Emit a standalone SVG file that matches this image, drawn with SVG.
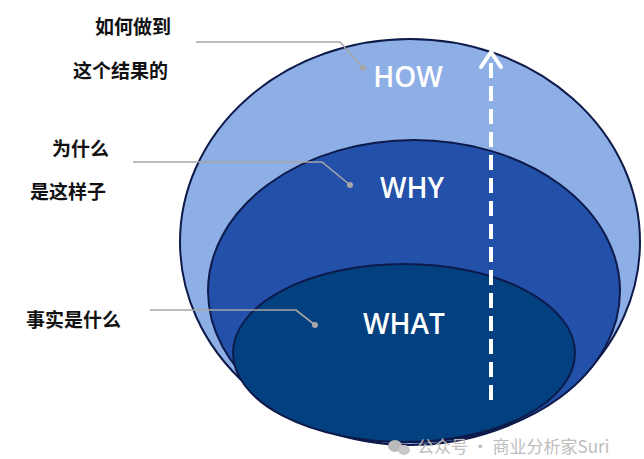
<svg xmlns="http://www.w3.org/2000/svg" width="644" height="459" viewBox="0 0 644 459">
<style>
.lbl{font-family:"Noto Sans CJK SC","Noto Sans",sans-serif;font-size:19px;font-weight:bold;fill:#111}
.big{font-family:"Open Sans","Noto Sans",sans-serif;font-size:28px;font-weight:600;fill:#fff;text-anchor:middle}
.lead{fill:none;stroke:#a6a6a6;stroke-width:1.6}
.dot{fill:#a6a6a6}
</style>
<rect width="644" height="459" fill="#fff"/>
<g id="how"><ellipse cx="410" cy="242" rx="230" ry="203" fill="#8eafe6" stroke="#0d1a4a" stroke-width="2"/><text class="big" x="408" y="87">HOW</text></g>
<g id="why"><ellipse cx="414" cy="291" rx="206" ry="151" fill="#2350a8" stroke="#0d1a4a" stroke-width="2"/><text class="big" x="412" y="198">WHY</text></g>
<g id="what"><ellipse cx="404" cy="353" rx="171" ry="89" fill="#02407f" stroke="#0d1a4a" stroke-width="2"/><text class="big" x="404" y="334">WHAT</text></g>
<g id="arrow"><line x1="491" y1="400" x2="491" y2="56" stroke="#fff" stroke-width="4" stroke-dasharray="15,8"/><polyline points="481,67 491,52 501,67" fill="none" stroke="#fff" stroke-width="4" stroke-linecap="round" stroke-linejoin="round"/></g>
<g id="connectors">
<polyline class="lead" points="196,42 340,42 363,68"/><circle class="dot" cx="363" cy="68" r="3"/>
<polyline class="lead" points="133,162 322,162 350,185"/><circle class="dot" cx="350" cy="185" r="3"/>
<polyline class="lead" points="150,310 296,310 315,325"/><circle class="dot" cx="315" cy="325" r="3"/>
</g>
<g id="labels">
<text class="lbl" x="95" y="34">如何做到</text>
<text class="lbl" x="73" y="78">这个结果的</text>
<text class="lbl" x="52" y="156">为什么</text>
<text class="lbl" x="30" y="199">是这样子</text>
<text class="lbl" x="26" y="327">事实是什么</text>
</g>
<g id="watermark">
<ellipse cx="395" cy="446" rx="7" ry="6" fill="#bbb"/><ellipse cx="404" cy="450" rx="6" ry="5" fill="#c8c8c8"/>
<text x="417" y="453" font-family="Noto Sans CJK SC,Noto Sans,sans-serif" font-size="17" fill="#bdbdbd">公众号 · 商业分析家Suri</text>
</g>
</svg>
